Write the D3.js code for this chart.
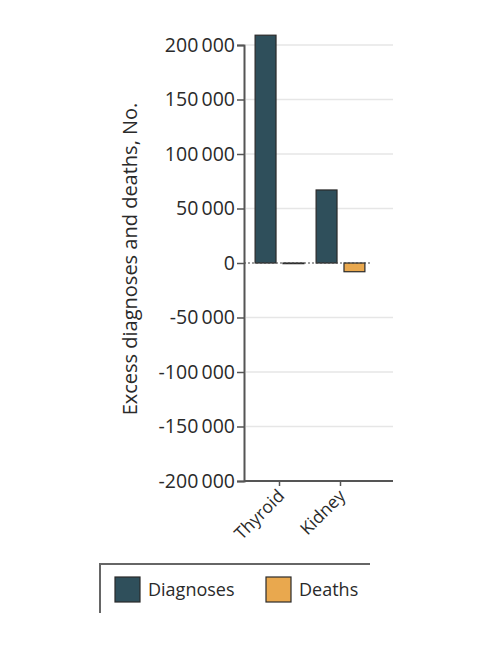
<!DOCTYPE html>
<html>
<head>
<meta charset="utf-8">
<script src="https://cdn.jsdelivr.net/npm/d3@7"></script>
<style>
  body { margin: 0; background: #fff; }
  text { font-family: "Open Sans", "Noto Sans", sans-serif; fill: #2a2a2a; }
</style>
</head>
<body>
<div id="chart"></div>
<script>
const categories = ['Thyroid', 'Kidney'];
const series = ['Diagnoses', 'Deaths'];
const diagnoses = [209000, 67000];
const deaths = [-600, -8000];
const yTicks = [200000, 150000, 100000, 50000, 0, -50000, -100000, -150000, -200000];

const colors = { Diagnoses: '#2f4f5b', Deaths: '#e9a84e' };

const width = 500, height = 652;
const svg = d3.select('#chart').append('svg')
  .attr('width', width)
  .attr('height', height);

const y = d3.scaleLinear().domain([-200000, 200000]).range([481, 45]);
const x = d3.scaleBand().domain(categories).range([249, 371])
  .paddingInner(0.2).paddingOuter(0.1);
const xSub = d3.scaleBand().domain(series).range([0, x.bandwidth()]).paddingInner(0.25);

const fmt = v => d3.format(',')(v).replace(/,/g, '\u2009').replace('\u2212', '-');

// grid
svg.append('g').selectAll('line')
  .data(yTicks.filter(d => d !== 0 && d !== -200000))
  .enter().append('line')
  .attr('x1', 246).attr('x2', 393)
  .attr('y1', d => y(d)).attr('y2', d => y(d))
  .attr('stroke', '#e6e6e6').attr('stroke-width', 1.5);

// bars
const rows = categories.map((c, i) => ({ cat: c, Diagnoses: diagnoses[i], Deaths: deaths[i] }));
svg.append('g').selectAll('g')
  .data(rows).enter().append('g')
  .attr('transform', d => `translate(${x(d.cat)},0)`)
  .selectAll('rect')
  .data(d => series.map(s => ({ key: s, value: d[s] })))
  .enter().append('rect')
  .attr('x', d => xSub(d.key))
  .attr('width', xSub.bandwidth())
  .attr('y', d => y(Math.max(0, d.value)))
  .attr('height', d => Math.abs(y(d.value) - y(0)))
  .attr('fill', d => colors[d.key])
  .attr('stroke', '#2a2a2a')
  .attr('stroke-width', 1.2);

// zero line
svg.append('line')
  .attr('x1', 244).attr('x2', 370)
  .attr('y1', y(0)).attr('y2', y(0))
  .attr('stroke', '#444').attr('stroke-width', 1.2)
  .attr('stroke-dasharray', '2,2');

// y axis
const yAxis = svg.append('g')
  .attr('transform', 'translate(244,0)')
  .call(d3.axisLeft(y).tickValues(yTicks).tickFormat(fmt).tickSize(7).tickPadding(2));
yAxis.select('.domain').attr('stroke', '#555').attr('stroke-width', 2);
yAxis.selectAll('.tick line').attr('stroke', '#555').attr('stroke-width', 1.5);
yAxis.selectAll('.tick text')
  .style('font-family', '"Open Sans", sans-serif')
  .style('font-size', '19.5px')
  .attr('fill', '#2a2a2a');

// x axis
const xAxis = svg.append('g')
  .attr('transform', 'translate(0,481)');
xAxis.append('line')
  .attr('x1', 244).attr('x2', 393)
  .attr('stroke', '#555').attr('stroke-width', 2);
xAxis.selectAll('.xt')
  .data(categories).enter().append('line')
  .attr('x1', d => x(d) + x.bandwidth() / 2)
  .attr('x2', d => x(d) + x.bandwidth() / 2)
  .attr('y1', 0).attr('y2', 5)
  .attr('stroke', '#555').attr('stroke-width', 1.5);
xAxis.selectAll('.xl')
  .data(categories).enter().append('text')
  .attr('text-anchor', 'end')
  .attr('transform', d => `translate(${x(d) + x.bandwidth() / 2 + 6},16) rotate(-45)`)
  .style('font-size', '17.5px')
  .text(d => d);

// y title
svg.append('text')
  .attr('transform', `translate(137,${(45 + 481) / 2 - 4}) rotate(-90)`)
  .attr('text-anchor', 'middle')
  .style('font-size', '20px')
  .text('Excess diagnoses and deaths, No.');

// legend
const lg = svg.append('g');
lg.append('path')
  .attr('d', 'M100,613 V564 H370')
  .attr('fill', 'none').attr('stroke', '#666').attr('stroke-width', 2);
const items = lg.selectAll('g.item')
  .data(series).enter().append('g')
  .attr('transform', (d, i) => `translate(${[115, 266][i]},577)`);
items.append('rect')
  .attr('width', 25).attr('height', 25)
  .attr('fill', d => colors[d])
  .attr('stroke', '#2a2a2a').attr('stroke-width', 1.2);
items.append('text')
  .attr('x', 33).attr('y', 19)
  .style('font-size', '18px')
  .text(d => d);
</script>
</body>
</html>
